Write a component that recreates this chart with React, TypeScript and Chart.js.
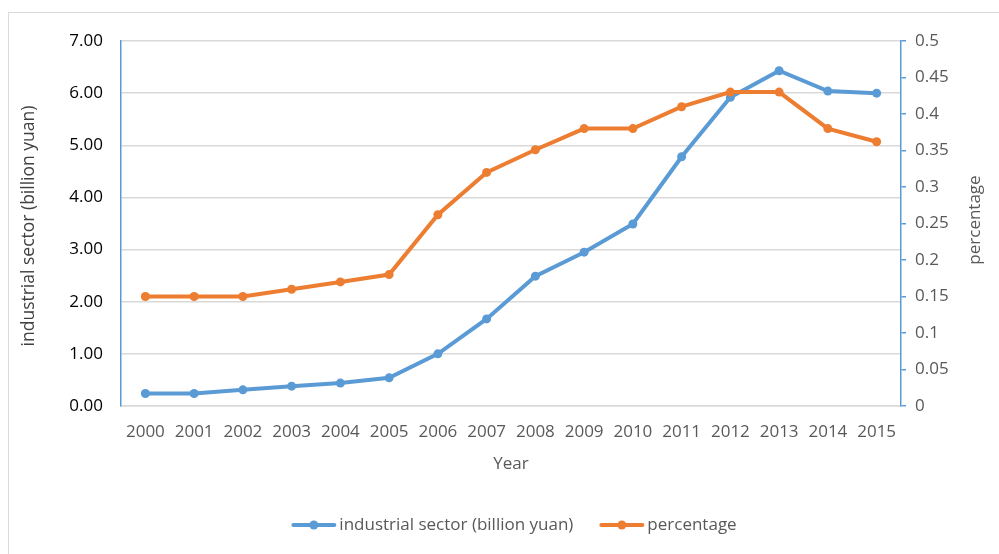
import React, { useEffect, useRef } from "react";
import { Chart, registerables } from "chart.js";

Chart.register(...registerables);

const years = ["2000","2001","2002","2003","2004","2005","2006","2007","2008","2009","2010","2011","2012","2013","2014","2015"];
const industrial = [0.24,0.24,0.31,0.38,0.44,0.54,1.0,1.67,2.49,2.95,3.49,4.78,5.92,6.43,6.04,6.0];
const percentage = [0.15,0.15,0.15,0.16,0.17,0.18,0.262,0.32,0.351,0.38,0.38,0.41,0.43,0.43,0.38,0.362];
const seriesNames = ["industrial sector (billion yuan)", "percentage"];
const leftTitle = "industrial sector (billion yuan)";
const rightTitle = "percentage";
const xTitle = "Year";

const BLUE = "#5b9bd5";
const ORANGE = "#ed7d31";
const FONT = "'Open Sans', Lato, sans-serif";

const extrasPlugin = {
  id: "extras",
  afterDraw(chart: any) {
    const ctx = chart.ctx;
    ctx.save();
    ctx.font = `17px ${FONT}`;
    ctx.fillStyle = "#595959";
    ctx.textAlign = "center";
    ctx.textBaseline = "middle";
    ctx.translate(975, 220);
    ctx.rotate(-Math.PI / 2);
    ctx.fillText(rightTitle, 0, 0);
    ctx.restore();

    // left title
    ctx.save();
    ctx.font = `17.5px ${FONT}`;
    ctx.fillStyle = "#404040";
    ctx.textAlign = "center";
    ctx.textBaseline = "middle";
    ctx.translate(29, 226);
    ctx.rotate(-Math.PI / 2);
    ctx.fillText(leftTitle, 0, 0);
    ctx.restore();

    // legend
    ctx.save();
    ctx.font = `17px ${FONT}`;
    const colors = [BLUE, ORANGE];
    const lineLen = 45;
    const gapText = 3;
    const gapItems = 26;
    const widths = seriesNames.map((n) => ctx.measureText(n).width);
    const total = widths.reduce((a, w) => a + lineLen + gapText + w, 0) + gapItems;
    let x = 514 - total / 2;
    const y = 525;
    seriesNames.forEach((n, i) => {
      ctx.strokeStyle = colors[i];
      ctx.lineWidth = 4;
      ctx.lineCap = "round";
      ctx.beginPath();
      ctx.moveTo(x + 2, y);
      ctx.lineTo(x + lineLen - 2, y);
      ctx.stroke();
      ctx.fillStyle = colors[i];
      ctx.beginPath();
      ctx.arc(x + lineLen / 2, y, 4.5, 0, Math.PI * 2);
      ctx.fill();
      ctx.fillStyle = "#595959";
      ctx.textAlign = "left";
      ctx.textBaseline = "middle";
      ctx.fillText(n, x + lineLen + gapText, y);
      x += lineLen + gapText + widths[i] + gapItems;
    });
    ctx.restore();
  },
};

export default function App() {
  const ref = useRef<HTMLCanvasElement>(null);
  useEffect(() => {
    if (!ref.current) return;
    Chart.defaults.font.family = FONT;
    const chart = new Chart(ref.current, {
      type: "line",
      data: {
        labels: years,
        datasets: [
          {
            label: seriesNames[0],
            data: industrial,
            borderColor: BLUE,
            backgroundColor: BLUE,
            borderWidth: 4,
            pointRadius: 4.5,
            pointBorderWidth: 0,
            yAxisID: "y",
            order: 2,
          },
          {
            label: seriesNames[1],
            data: percentage,
            borderColor: ORANGE,
            backgroundColor: ORANGE,
            borderWidth: 4,
            pointRadius: 4.5,
            pointBorderWidth: 0,
            yAxisID: "y1",
            order: 1,
          },
        ],
      },
      options: {
        responsive: false,
        animation: false,
        layout: { padding: { top: 41, left: 0, right: 0, bottom: 0 } },
        plugins: { legend: { display: false }, tooltip: { enabled: false } },
        scales: {
          x: {
            offset: true,
            grid: { display: false, drawTicks: false },
            border: { display: true, color: "#d9d9d9", width: 1.5 },
            ticks: { color: "#595959", font: { size: 17 }, padding: 16, maxRotation: 0 },
            title: { display: true, text: xTitle, color: "#595959", font: { size: 17 }, padding: { top: 0, bottom: 80 } },
            afterFit: (s: any) => { s.height = 148; },
          },
          y: {
            position: "left",
            min: 0,
            max: 7,
            ticks: { stepSize: 1, color: "#000000", font: { size: 17 }, padding: 18, callback: (v: any) => Number(v).toFixed(2) },
            grid: { color: "#d9d9d9", lineWidth: 1.5, drawTicks: false },
            border: { display: true, color: BLUE, width: 1.5 },
            afterFit: (s: any) => { s.width = 121; },
          },
          y1: {
            position: "right",
            min: 0,
            max: 0.5,
            ticks: { stepSize: 0.05, color: "#595959", font: { size: 17 }, padding: 9, callback: (v: any) => String(Math.round(Number(v) * 100) / 100) },
            grid: { drawOnChartArea: false, drawTicks: true, tickLength: 5, color: BLUE, lineWidth: 1.5 },
            border: { display: true, color: BLUE, width: 1.5 },
            afterFit: (s: any) => { s.width = 98; },
          },
        },
      },
      plugins: [extrasPlugin],
    });
    return () => chart.destroy();
  }, []);
  return (
    <div style={{ position: "absolute", left: 0, top: 0, width: 999, height: 554, overflow: "hidden", background: "#fff" }}>
      <div style={{ position: "absolute", left: 8, top: 12, width: 1100, height: 700, border: "1px solid #d9d9d9" }} />
      <canvas ref={ref} width={999} height={554} style={{ position: "absolute", left: 0, top: 0, width: 999, height: 554 }} />
    </div>
  );
}
